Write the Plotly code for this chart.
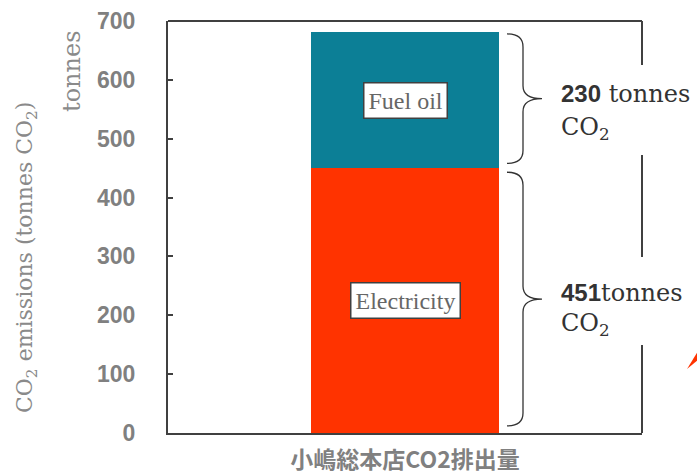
import plotly.graph_objects as go

category = ["小嶋総本店CO2排出量"]
electricity = [451]
fuel_oil = [230]
series_names = ["Electricity", "Fuel oil"]
y_ticks = [0, 100, 200, 300, 400, 500, 600, 700]

W, H = 697, 475
ML, MR, MT, MB = 168, 55, 21, 42
PW = W - ML - MR
PH = H - MT - MB
YMAX = 700

def px2paper_x(px):
    return (px - ML) / PW

def px2paper_y(py):
    return (H - MB - py) / PH

def px2val(py):
    return (H - MB - py) / PH * YMAX

fig = go.Figure()
fig.add_trace(go.Bar(x=category, y=electricity, name=series_names[0],
                     marker=dict(color="#FF3300", line=dict(width=0)), width=0.396))
fig.add_trace(go.Bar(x=category, y=fuel_oil, name=series_names[1],
                     marker=dict(color="#0C7F96", line=dict(width=0)), width=0.396))

total = electricity[0] + fuel_oil[0]
elec = electricity[0]

shapes = []
line_col = "#404040"
shapes.append(dict(type="line", xref="paper", yref="paper", x0=0, x1=1, y0=1, y1=1,
                   line=dict(color=line_col, width=2)))
for a, b in [(YMAX, px2val(65)), (px2val(155), px2val(257)), (px2val(345), 0)]:
    shapes.append(dict(type="line", xref="paper", yref="y", x0=1, x1=1, y0=a, y1=b,
                       line=dict(color=line_col, width=2)))

def brace(ytop, ybot, xb, xm, xt, r):
    ymid = (ytop + ybot) / 2
    return (f"M {xb},{ytop} Q {xm},{ytop} {xm},{ytop - r} "
            f"L {xm},{ymid + r} Q {xm},{ymid} {xt},{ymid} "
            f"Q {xm},{ymid} {xm},{ymid - r} "
            f"L {xm},{ybot + r} Q {xm},{ybot} {xb},{ybot}")

xb, xm, xt = px2paper_x(507), px2paper_x(523), px2paper_x(542)
r = 22
shapes.append(dict(type="path", xref="paper", yref="y",
                   path=brace(total - 3, elec + 7, xb, xm, xt, r),
                   line=dict(color="#333333", width=1.3)))
shapes.append(dict(type="path", xref="paper", yref="y",
                   path=brace(elec - 8, 12, xb, xm, xt, r),
                   line=dict(color="#333333", width=1.3)))
shapes.append(dict(type="path", xref="paper", yref="paper",
                   path=f"M {px2paper_x(687)},{px2paper_y(369)} L {px2paper_x(698)},{px2paper_y(351)} "
                        f"L {px2paper_x(698)},{px2paper_y(360)} Z",
                   fillcolor="#FF3300", line=dict(width=0)))

serif = "DejaVu Serif"
ann = []
ann.append(dict(text="CO<sub>2</sub> emissions (tonnes CO<sub>2</sub>)", textangle=-90,
                xref="paper", yref="paper", x=px2paper_x(26), y=px2paper_y(258),
                xanchor="center", yanchor="middle",
                showarrow=False, font=dict(family=serif, size=22, color="#8a8a8a")))
ann.append(dict(text="tonnes", textangle=-90,
                xref="paper", yref="paper", x=px2paper_x(72), y=px2paper_y(71),
                xanchor="center", yanchor="middle",
                showarrow=False, font=dict(family=serif, size=24, color="#8a8a8a")))

tx = px2paper_x(559)
rs = 24
ann.append(dict(text=f"<b><span style='font-family:Liberation Sans'>{fuel_oil[0]}</span></b> tonnes",
                xref="paper", yref="y", x=tx, y=px2val(94), xanchor="left", yanchor="middle",
                showarrow=False, font=dict(family=serif, size=rs, color="#333333")))
ann.append(dict(text="CO<sub>2</sub>", xref="paper", yref="y", x=tx, y=px2val(128),
                xanchor="left", yanchor="middle", showarrow=False,
                font=dict(family=serif, size=rs, color="#333333")))
ann.append(dict(text=f"<b><span style='font-family:Liberation Sans'>{electricity[0]}</span></b>tonnes",
                xref="paper", yref="y", x=tx, y=px2val(293), xanchor="left", yanchor="middle",
                showarrow=False, font=dict(family=serif, size=rs, color="#333333")))
ann.append(dict(text="CO<sub>2</sub>", xref="paper", yref="y", x=tx, y=px2val(324),
                xanchor="left", yanchor="middle", showarrow=False,
                font=dict(family=serif, size=rs, color="#333333")))

ann.append(dict(text=series_names[1], x=category[0], y=px2val(100), xref="x", yref="y",
                showarrow=False, bgcolor="white", bordercolor="#404040", borderwidth=1.5,
                borderpad=4,
                font=dict(family="Liberation Serif", size=24, color="#666666")))
ann.append(dict(text=series_names[0], x=category[0], y=px2val(300), xref="x", yref="y",
                showarrow=False, bgcolor="white", bordercolor="#404040", borderwidth=1.5,
                borderpad=4,
                font=dict(family="Liberation Serif", size=24, color="#666666")))

fig.update_layout(
    width=W, height=H, barmode="stack", showlegend=False,
    margin=dict(l=ML, r=MR, t=MT, b=MB),
    paper_bgcolor="white", plot_bgcolor="white",
    shapes=shapes, annotations=ann,
    xaxis=dict(range=[-0.5, 0.5], showline=True, linecolor=line_col, linewidth=2,
               ticks="", showgrid=False, zeroline=False, ticklabelstandoff=5, automargin=False,
               tickfont=dict(family="Noto Sans CJK JP", size=23, color="#808080", weight="bold")),
    yaxis=dict(range=[0, YMAX], tickvals=y_ticks, ticktext=[str(v) for v in y_ticks],
               showline=True, linecolor=line_col, linewidth=2, automargin=False,
               ticks="inside", ticklen=5, tickcolor=line_col, tickwidth=1.5,
               showgrid=False, zeroline=False, ticklabelstandoff=26,
               tickfont=dict(family="Liberation Sans", size=23, color="#808080", weight="bold")),
)

fig.write_html("out.html")
